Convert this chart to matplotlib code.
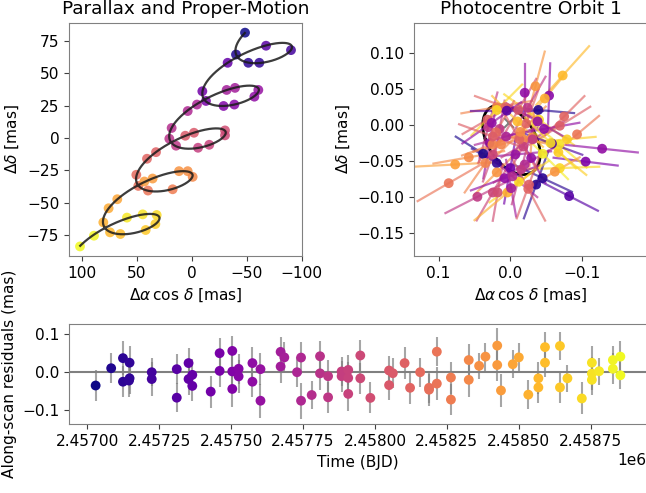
import numpy as np
import matplotlib
matplotlib.use('Agg')
import matplotlib.pyplot as plt
from matplotlib.ticker import MultipleLocator

# along-scan residuals per epoch
t_obs = [2457029, 2457083, 2457124, 2457124, 2457147, 2457147, 2457145, 2457224, 2457224,
         2457311, 2457311, 2457352, 2457352, 2457365, 2457365, 2457429, 2457460, 2457460,
         2457504, 2457504, 2457504, 2457526, 2457526, 2457574, 2457574, 2457602, 2457602,
         2457672, 2457672, 2457685, 2457729, 2457743, 2457743, 2457780, 2457809, 2457809,
         2457837, 2457837, 2457884, 2457884, 2457907, 2457907, 2457907, 2457949, 2457949,
         2457984, 2458049, 2458049, 2458062, 2458103, 2458122, 2458157, 2458188, 2458188,
         2458215, 2458215, 2458264, 2458264, 2458326, 2458326, 2458362, 2458384, 2458425,
         2458425, 2458438, 2458479, 2458500, 2458533, 2458568, 2458568, 2458591, 2458591,
         2458643, 2458643, 2458669, 2458719, 2458754, 2458754, 2458754, 2458779, 2458827,
         2458827, 2458853, 2458853]
res = [-0.035, 0.0105, 0.037, -0.025, 0.025, -0.016, -0.022, 0.000, -0.018,
       0.008, -0.067, 0.024, -0.018, -0.007, -0.036, -0.051, 0.050, 0.0035,
       0.056, 0.002, -0.044, 0.009, -0.011, 0.024, -0.025, 0.008, -0.075,
       0.0535, 0.015, 0.039, 0.000, 0.0385, -0.075, -0.060, 0.042, -0.003,
       -0.0105, -0.066, 0.002, -0.0105, 0.006, -0.015, -0.057, 0.044, -0.016,
       -0.0675, 0.0045, -0.034, -0.0026, 0.024, -0.041, 0.000, -0.041, -0.046,
       0.054, -0.030, -0.014, -0.072, 0.032, -0.020, 0.0167, 0.041, 0.070,
       0.019, -0.048, 0.021, 0.039, -0.059, -0.016, -0.040, 0.066, 0.025,
       0.069, -0.040, -0.016, -0.069, 0.025, -0.0035, -0.020, 0.0026, 0.032,
       0.009, 0.041, -0.008]
res_err = [0.042, 0.040, 0.045, 0.041, 0.043, 0.040, 0.042, 0.037, 0.045,
           0.040, 0.038, 0.040, 0.042, 0.041, 0.039, 0.042, 0.040, 0.043,
           0.040, 0.044, 0.047, 0.039, 0.043, 0.041, 0.040, 0.042, 0.045,
           0.040, 0.043, 0.041, 0.040, 0.042, 0.047, 0.038, 0.041, 0.043,
           0.042, 0.040, 0.039, 0.041, 0.040, 0.042, 0.044, 0.040, 0.040,
           0.041, 0.038, 0.040, 0.040, 0.041, 0.043, 0.038, 0.040, 0.042,
           0.038, 0.044, 0.042, 0.041, 0.043, 0.045, 0.035, 0.037, 0.045,
           0.043, 0.043, 0.037, 0.037, 0.038, 0.042, 0.040, 0.040, 0.038,
           0.038, 0.042, 0.035, 0.042, 0.045, 0.043, 0.040, 0.036, 0.038,
           0.041, 0.040, 0.037]

# measured positions on the sky (mas), with epoch
pm_ra = [-48.5, -67.6, -90.3, -40.3, -32.7, -51.5, -61.5, -9.7, -31.8, -39.4,
         -60.6, -57.0, -13.0, -29.0, -38.8, -4.8, 3.6, 18.2, 20.3, 14.2,
         5.8, -2.1, -30.3, -30.3, -16.0, -5.8, 32.4, 40.6, 50.3, 48.5,
         43.0, 35.5, 39.7, 17.3, 11.5, 3.6, -0.9, 67.6, 75.5, 80.3,
         74.2, 64.8, 58.8, 44.5, 31.8, 33.0, 41.8, 88.8, 101.5]
pm_dec = [81.5, 71.4, 68.0, 64.6, 58.2, 58.2, 58.2, 36.2, 37.2, 38.8,
          37.2, 32.0, 28.7, 24.8, 25.9, 25.9, 20.9, 7.8, -0.5, -5.9,
          1.8, 4.1, 5.9, 2.1, -5.2, -7.5, -10.9, -16.0, -28.4, -37.0,
          -33.6, -31.3, -40.6, -39.6, -25.6, -25.6, -30.0, -47.3, -54.3, -65.2,
          -72.9, -74.2, -61.5, -59.0, -59.5, -66.5, -71.1, -75.5, -83.8]
pm_time = [2457029, 2457310, 2457223, 2457082, 2457365, 2457124, 2457146, 2457430, 2457684, 2457671,
           2457602, 2457572, 2457463, 2457506, 2457526, 2457727, 2457742, 2457781, 2457809, 2457838,
           2458061, 2458049, 2457980, 2457955, 2457907, 2457886, 2458104, 2458120, 2458156, 2458189,
           2458437, 2458426, 2458217, 2458266, 2458384, 2458363, 2458326, 2458479, 2458499, 2458534,
           2458571, 2458594, 2458780, 2458755, 2458721, 2458669, 2458643, 2458829, 2458853]

# fitted parallax + proper motion track: c0 + c1*t + c2*cos(2 pi t) + c3*sin(2 pi t), t in yr
track_ra = [-75.810, 30.107, 27.478, 18.084]
track_dec = [82.012, -33.067, -0.768, -15.190]

# photocentre positions (mas), epoch, scan angle (deg) and error half-length (mas)
orb_x = [-0.073, -0.035, -0.020, -0.054, -0.048, -0.039, -0.075, -0.069, -0.093, -0.022,
         -0.040, 0.019, 0.007, -0.011, 0.032, 0.015, -0.038, -0.128, -0.105, -0.082,
         -0.069, -0.067, -0.068, -0.079, -0.045, -0.036, 0.038, 0.019, 0.058, 0.077,
         0.086, 0.046, 0.0245, 0.0176, 0.035, 0.029, 0.013, 0.019, 0.004, 0.008,
         -0.012, -0.001, -0.007, -0.018, -0.030, -0.018, 0.006, 0.031, -0.029, -0.062,
         -0.025, 0.0245, -0.058, 0.005, -0.010, 0.020, -0.020, -0.045, 0.000, 0.019,
         0.026, -0.024, -0.047, -0.015, -0.0125, 0.025, -0.026, 0.0245, -0.014, -0.031,
         -0.003, -0.056]
orb_y = [0.069, 0.054, 0.045, 0.041, 0.037, 0.021, 0.012, -0.001, -0.013, 0.002,
         0.0075, 0.025, 0.025, 0.021, 0.0075, -0.0055, 0.005, -0.033, -0.051, -0.099,
         -0.060, -0.038, -0.027, -0.020, -0.074, -0.083, -0.040, -0.053, -0.045, -0.055,
         -0.081, -0.100, -0.094, -0.094, -0.053, -0.025, -0.027, -0.066, -0.094, -0.074,
         -0.079, -0.088, -0.041, -0.020, -0.018, -0.030, -0.016, -0.003, -0.046, -0.065,
         -0.089, -0.041, -0.026, 0.020, 0.005, -0.010, -0.055, -0.040, -0.060, 0.021,
         0.003, 0.024, -0.0055, -0.062, -0.020, -0.027, -0.083, -0.016, -0.0096, -0.020,
         -0.0715, -0.025]
orb_time = [2458580, 2458400, 2457580, 2457540, 2458530, 2457090, 2458125, 2458090, 2458230, 2458125,
            2458710, 2458310, 2458125, 2458030, 2458090, 2457850, 2457580, 2457580, 2457490, 2457300,
            2458710, 2458670, 2458760, 2458670, 2457120, 2457110, 2457060, 2457140, 2458340, 2458450,
            2458215, 2457850, 2457940, 2457980, 2458310, 2457600, 2458310, 2458400, 2458530, 2457580,
            2458710, 2457670, 2457610, 2458310, 2458340, 2457905, 2457720, 2457850, 2457580, 2458400,
            2458125, 2457940, 2457250, 2457300, 2458580, 2458160, 2457760, 2458800, 2457430, 2458710,
            2457580, 2457850, 2457580, 2457850, 2458125, 2458310, 2458090, 2458090, 2458340, 2457850,
            2457760, 2458725]
orb_psi = [132, 105, 90, 92, 130, 185, 135, 148, 140, 110,
           216, 170, 200, 120, 150, 100, 210, 186, 187, 207,
           178, 219, 220, 175, 205, 110, 212, 210, 170, 177,
           150, 153, 120, 100, 125, 100, 165, 135, 140, 160,
           145, 260, 175, 190, 95, 120, 165, 105, 240, 150,
           242, 110, 200, 180, 225, 120, 150, 225, 100, 135,
           145, 120, 170, 105, 240, 160, 110, 200, 135, 150,
           220, 225]
orb_len = [0.055, 0.050, 0.040, 0.045, 0.040, 0.050, 0.040, 0.050, 0.040, 0.050,
           0.060, 0.050, 0.045, 0.050, 0.040, 0.040, 0.050, 0.050, 0.045, 0.045,
           0.055, 0.050, 0.050, 0.040, 0.045, 0.050, 0.045, 0.040, 0.050, 0.060,
           0.050, 0.050, 0.045, 0.040, 0.050, 0.050, 0.040, 0.045, 0.060, 0.050,
           0.050, 0.040, 0.050, 0.040, 0.040, 0.040, 0.045, 0.050, 0.040, 0.040,
           0.050, 0.040, 0.045, 0.050, 0.050, 0.050, 0.050, 0.050, 0.050, 0.050,
           0.050, 0.050, 0.050, 0.050, 0.045, 0.045, 0.050, 0.050, 0.050, 0.050,
           0.045, 0.050]

# photocentre orbit ellipse: centre and the two conjugate semi-axis vectors (mas)
orbit_centre = [-0.0015, -0.0205]
orbit_u = [0.0365, 0.0005]
orbit_v = [0.0165, 0.0485]

t_obs = np.array(t_obs)
res = np.array(res)
res_err = np.array(res_err)
cmap = plt.get_cmap('plasma')
tmin, tmax = t_obs.min(), t_obs.max()

plt.rcParams['font.size'] = 11.1
plt.rcParams['axes.titlesize'] = 13.3
plt.rcParams['axes.edgecolor'] = '#808080'
plt.rcParams['xtick.color'] = '#404040'
plt.rcParams['ytick.color'] = '#404040'
plt.rcParams['xtick.labelcolor'] = 'black'
plt.rcParams['ytick.labelcolor'] = 'black'

fig = plt.figure(figsize=(6.46, 4.93), dpi=100)
ax1 = fig.add_axes([69 / 646, 237 / 493, 233 / 646, 233.3 / 493])
ax2 = fig.add_axes([414.3 / 646, 237 / 493, 233 / 646, 233.3 / 493])
ax3 = fig.add_axes([69.4 / 646, 68.7 / 493, 577.2 / 646, 100 / 493])

# parallax and proper motion
tt = np.linspace(0, (tmax - tmin) / 365.25, 2000)
basis = np.vstack([np.ones_like(tt), tt, np.cos(2 * np.pi * tt), np.sin(2 * np.pi * tt)])
ax1.scatter(pm_ra, pm_dec, c=pm_time, cmap=cmap, vmin=tmin, vmax=tmax, s=50, alpha=0.85,
            edgecolors='none', zorder=2)
ax1.plot(np.dot(track_ra, basis), np.dot(track_dec, basis), color='#1a1a1a', lw=1.6,
         alpha=0.85, zorder=3)
ax1.set_xlim(111.5, -100.3)
ax1.set_ylim(-91.2, 89.2)
ax1.set_xticks([100, 50, 0, -50, -100])
ax1.set_yticks([-75, -50, -25, 0, 25, 50, 75])
ax1.set_xlabel(r'$\Delta\alpha\,\cos\,\delta$ [mas]')
ax1.set_ylabel(r'$\Delta\delta$ [mas]')
ax1.set_title('Parallax and Proper-Motion')

# photocentre orbit
ph = np.linspace(0, 2 * np.pi, 400)
ax2.plot(orbit_centre[0] + orbit_u[0] * np.cos(ph) + orbit_v[0] * np.sin(ph),
         orbit_centre[1] + orbit_u[1] * np.cos(ph) + orbit_v[1] * np.sin(ph),
         color='black', lw=2.0, zorder=1)
ax2.plot([0.0015], [0.003], marker='x', color='grey', ms=7, mew=1.5, zorder=1)
orb_x = np.array(orb_x)
orb_y = np.array(orb_y)
psi = np.radians(orb_psi)
half = np.array(orb_len)
for i in range(len(orb_x)):
    col = cmap((orb_time[i] - tmin) / (tmax - tmin))
    ax2.plot([orb_x[i] - half[i] * np.cos(psi[i]), orb_x[i] + half[i] * np.cos(psi[i])],
             [orb_y[i] - half[i] * np.sin(psi[i]), orb_y[i] + half[i] * np.sin(psi[i])],
             color=col, lw=1.6, alpha=0.65, zorder=2)
ax2.scatter(orb_x, orb_y, c=orb_time, cmap=cmap, vmin=tmin, vmax=tmax, s=50,
            edgecolors='none', alpha=0.9, zorder=3)
ax2.set_xlim(0.134, -0.191)
ax2.set_ylim(-0.1825, 0.1426)
ax2.set_xticks([0.1, 0.0, -0.1])
ax2.set_yticks([-0.15, -0.10, -0.05, 0.00, 0.05, 0.10])
ax2.set_xlabel(r'$\Delta\alpha\,\cos\,\delta$ [mas]')
ax2.set_ylabel(r'$\Delta\delta$ [mas]')
ax2.set_title('Photocentre Orbit 1')

# residuals against time
ax3.axhline(0, color='#808080', lw=1.5, zorder=1)
ax3.errorbar(t_obs, res, yerr=res_err, fmt='none', ecolor='#808080', elinewidth=1.5,
             alpha=0.7, zorder=2)
ax3.scatter(t_obs, res, c=t_obs, cmap=cmap, vmin=tmin, vmax=tmax, s=50,
            edgecolors='none', zorder=3)
ax3.set_xlim(2456937.8, 2458944.2)
ax3.set_ylim(-0.137, 0.126)
ax3.xaxis.set_major_locator(MultipleLocator(250))
ax3.ticklabel_format(axis='x', style='sci', scilimits=(0, 0), useOffset=False)
ax3.set_xlabel('Time (BJD)')
ax3.set_ylabel('Along-scan residuals (mas)')

fig.savefig('out.png', dpi=100)
